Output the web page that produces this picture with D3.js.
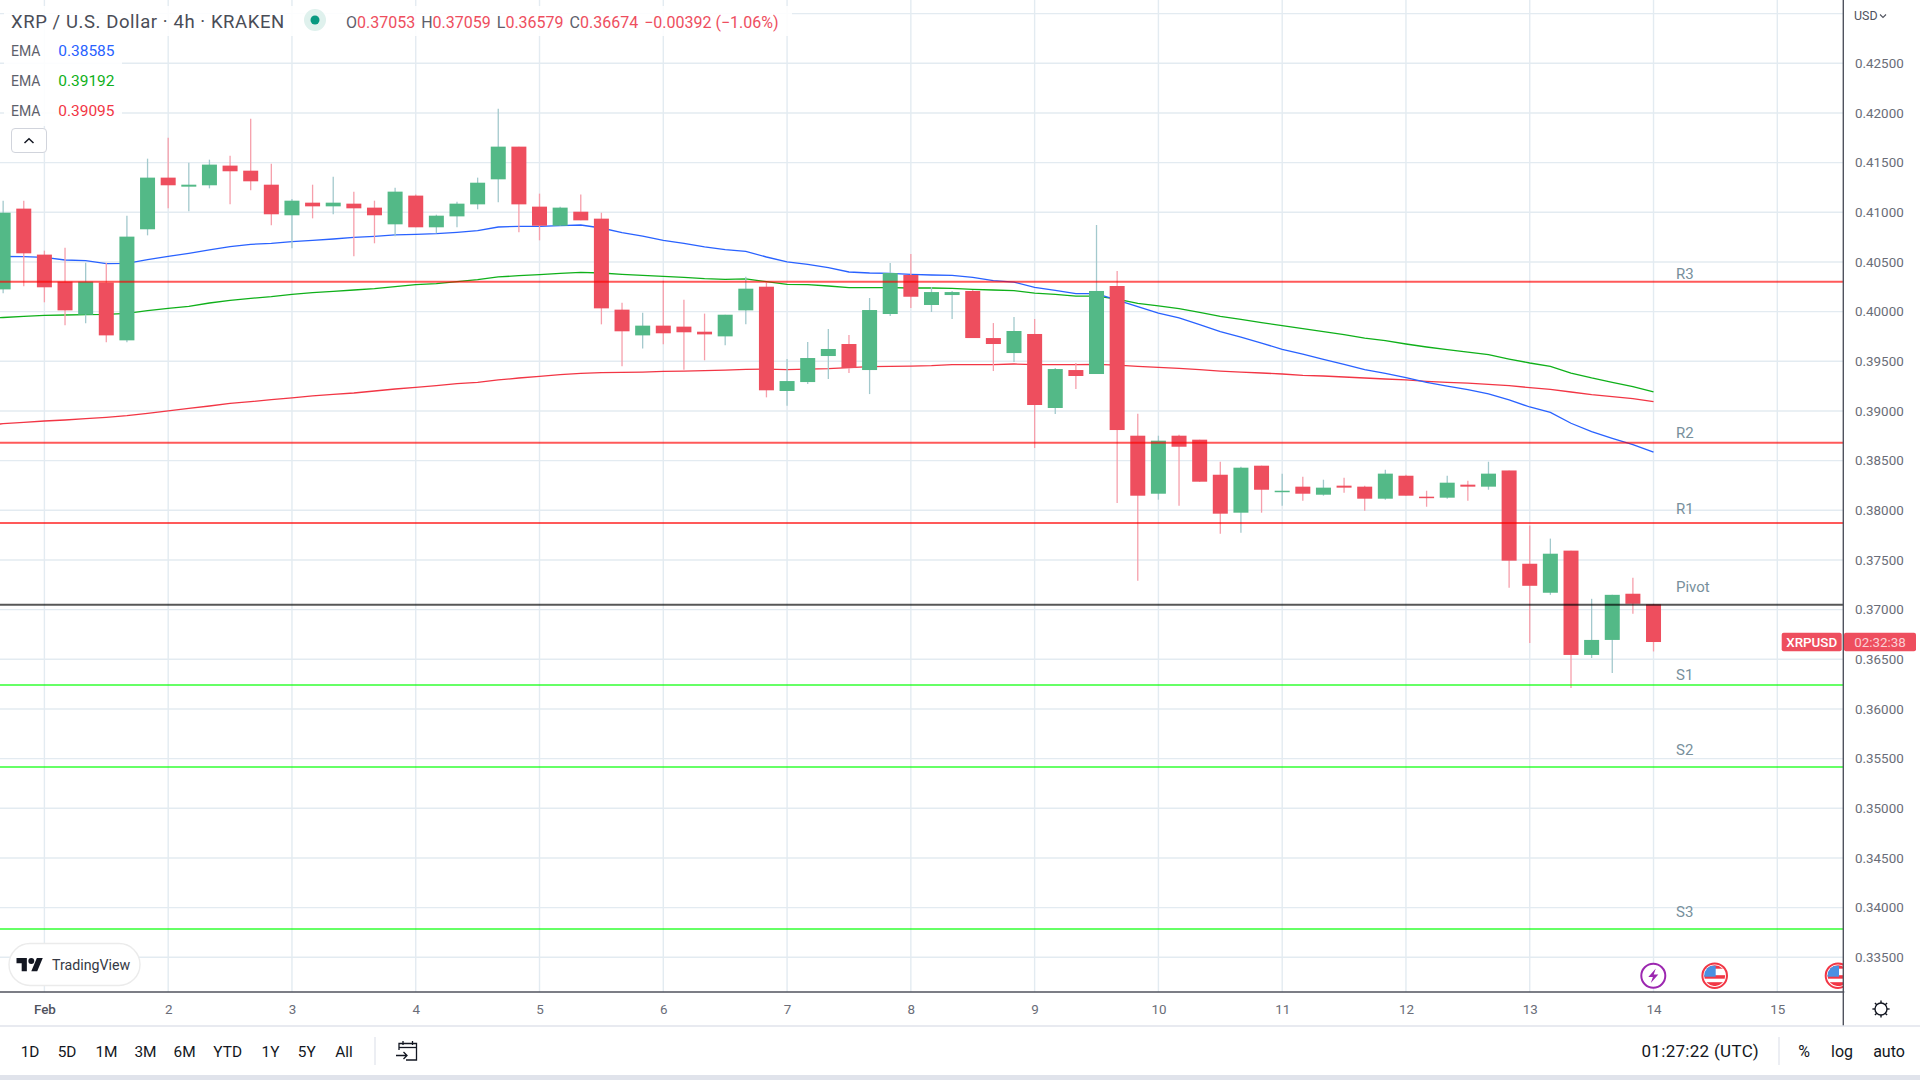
<!DOCTYPE html>
<html><head><meta charset="utf-8">
<script src="https://cdn.jsdelivr.net/npm/d3@7"></script>
<style>html,body{margin:0;padding:0;background:#fff;overflow:hidden}svg{display:block}text{font-family:Roboto,sans-serif}</style>
</head><body><svg id="c" width="1920" height="1080"></svg>
<script>
// Data. Bars are 4h; index 0 = 1 Feb 00:00.
const firstBar = -2;
const opens = [.40224,.41037,.40574,.40302,.39969,.40292,.39711,.40829,.41349,.41258,.41272,.41470,.41419,.41278,.40970,.41097,.41060,.41087,.41047,.40879,.41168,.40849,.40959,.41080,.41332,.41661,.41057,.40865,.41006,.40936,.40020,.39761,.39859,.39849,.39798,.39751,.40013,.40251,.39201,.39291,.39553,.39674,.39412,.39976,.40369,.40067,.40167,.40208,.39734,.39583,.39775,.39030,.39412,.39372,.40258,.38751,.38167,.38751,.38711,.38358,.37976,.38449,.38191,.38238,.38157,.38248,.38238,.38117,.38348,.38137,.38127,.38258,.38238,.38401,.37462,.37170,.37594,.36544,.36695,.37160,.37053];
const highs = [.41117,.41117,.40614,.40644,.40493,.40493,.40966,.41540,.41751,.41500,.41530,.41570,.41943,.41490,.41134,.41278,.41359,.41208,.41117,.41248,.41178,.40976,.41107,.41349,.42043,.41661,.41188,.41057,.41178,.40996,.40090,.39990,.40312,.40120,.39980,.39969,.40352,.40295,.39523,.39694,.39825,.39764,.40137,.40489,.40580,.40248,.40208,.40218,.39885,.39946,.39926,.39432,.39483,.40872,.40409,.38973,.38751,.38761,.38711,.38489,.38439,.38449,.38369,.38338,.38308,.38328,.38248,.38409,.38358,.38197,.38348,.38298,.38489,.38401,.37846,.37715,.37594,.37109,.37149,.37321,.37059];
const lows = [.40184,.40255,.40094,.39862,.39882,.39691,.39691,.40768,.41040,.41010,.41241,.41080,.41221,.40869,.40637,.40939,.40980,.40557,.40688,.40758,.40849,.40788,.40849,.41030,.41100,.40798,.40718,.40865,.40919,.39872,.39449,.39630,.39671,.39416,.39510,.39661,.39872,.39137,.39053,.39271,.39322,.39382,.39170,.39956,.40036,.39996,.39926,.39734,.39402,.39493,.38627,.38969,.39221,.39372,.38073,.37291,.38107,.38046,.38288,.37764,.37775,.37976,.38046,.38097,.38147,.38177,.37996,.38107,.38147,.38036,.38117,.38097,.38207,.37220,.36665,.37149,.36211,.36513,.36362,.36958,.36579];
const closes = [.40996,.40587,.40245,.40013,.40302,.39761,.40755,.41349,.41272,.41278,.41480,.41413,.41312,.40980,.41117,.41060,.41097,.41040,.40970,.41208,.40849,.40966,.41087,.41298,.41661,.41080,.40865,.41047,.40919,.40033,.39802,.39859,.39782,.39792,.39771,.39969,.40231,.39208,.39301,.39533,.39624,.39432,.40016,.40389,.40150,.40197,.40197,.39734,.39674,.39805,.39060,.39422,.39352,.40208,.38808,.38147,.38701,.38640,.38288,.37966,.38429,.38207,.38197,.38167,.38228,.38228,.38117,.38369,.38147,.38127,.38278,.38238,.38369,.37493,.37240,.37563,.36544,.36695,.37149,.37059,.36674];
const emaFirst = -3;
const emaBlue = [.40560,.40555,.40553,.40547,.40520,.40513,.40483,.40486,.40523,.40557,.40587,.40621,.40654,.40678,.40688,.40704,.40718,.40731,.40748,.40758,.40772,.40778,.40785,.40798,.40815,.40852,.40859,.40859,.40865,.40872,.40842,.40795,.40761,.40718,.40688,.40651,.40624,.40607,.40550,.40500,.40476,.40442,.40399,.40389,.40385,.40375,.40369,.40365,.40345,.40312,.40298,.40244,.40214,.40181,.40181,.40117,.40050,.39986,.39936,.39869,.39798,.39744,.39684,.39620,.39573,.39520,.39469,.39416,.39379,.39335,.39288,.39251,.39214,.39171,.39111,.39040,.38986,.38876,.38792,.38725,.38661,.38585];
const emaGreen = [.39929,.39941,.39953,.39963,.39966,.39969,.39973,.39983,.40010,.40033,.40053,.40087,.40114,.40134,.40151,.40174,.40191,.40204,.40218,.40231,.40251,.40271,.40282,.40302,.40322,.40349,.40362,.40372,.40386,.40396,.40389,.40376,.40365,.40355,.40345,.40332,.40325,.40329,.40302,.40275,.40271,.40258,.40241,.40241,.40241,.40238,.40238,.40234,.40224,.40218,.40211,.40187,.40174,.40157,.40157,.40125,.40083,.40057,.40030,.39993,.39953,.39922,.39889,.39859,.39828,.39798,.39768,.39734,.39708,.39674,.39644,.39617,.39593,.39567,.39523,.39483,.39450,.39382,.39332,.39288,.39245,.39192];
const emaRed = [.38852,.38872,.38886,.38899,.38909,.38923,.38936,.38953,.38976,.39000,.39027,.39050,.39077,.39094,.39114,.39131,.39151,.39168,.39181,.39201,.39221,.39238,.39255,.39275,.39288,.39312,.39332,.39349,.39365,.39379,.39385,.39389,.39392,.39399,.39402,.39406,.39412,.39419,.39422,.39416,.39422,.39426,.39436,.39446,.39449,.39452,.39456,.39466,.39466,.39466,.39473,.39466,.39466,.39466,.39469,.39462,.39449,.39439,.39429,.39416,.39402,.39392,.39382,.39372,.39359,.39352,.39342,.39332,.39322,.39312,.39298,.39288,.39281,.39268,.39255,.39235,.39218,.39191,.39164,.39144,.39124,.39095];
const pivotNames = ["R3","R2","R1","Pivot","S1","S2","S3"];
const pivotValues = [.40301,.38680,.37872,.37049,.36241,.35416,.33785];
const pivotColors = ["rgba(255,0,0,.65)","rgba(255,0,0,.65)","rgba(255,0,0,.65)","rgba(0,0,0,.66)","rgba(0,255,0,.6)","rgba(0,255,0,.6)","rgba(0,255,0,.6)"];
const pivotLabelY = [274,432.5,509,587,675,750,912];
const priceTicks = d3.range(0,19).map(i=>+(0.335+i*0.005).toFixed(3));
const dayTicks = [1,2,3,4,5,6,7,8,9,10,11,12,13,14,15];
const rangeButtons = ["1D","5D","1M","3M","6M","YTD","1Y","5Y","All"];
const rangeButtonX = [30,67,106.5,145.5,184.6,227.7,270.5,306.7,344];
const emaLegend = [["EMA","0.38585","#2962ff"],["EMA","0.39192","#0fb01a"],["EMA","0.39095","#f23645"]];
const ohlcLegend = [["O","0.37053"],["H","0.37059"],["L","0.36579"],["C","0.36674"]];

const W=1920,H=1080,plotR=1843.3,plotB=992;
const UP="#53b987",DOWN="#ee4e5e",UPW="#a3c9cd",DOWNW="#f69fab",GRID="#e3ebf1",AX="#50535e";
const x=d3.scaleLinear().domain([0,84]).range([44.4,1777.3]);
const y=d3.scaleLinear().domain([.335,.425]).range([957.3,63.3]);
const svg=d3.select("#c");
const defs=svg.append("defs");
defs.append("clipPath").attr("id","plot").append("rect").attr("width",plotR).attr("height",plotB);
svg.append("rect").attr("width",W).attr("height",H).attr("fill","#fff");

// grid
const grid=svg.append("g").attr("clip-path","url(#plot)");
grid.selectAll("line.h").data(priceTicks.concat([.43])).join("line").attr("x1",0).attr("x2",plotR)
 .attr("y1",d=>y(d)).attr("y2",d=>y(d)).attr("stroke",GRID).attr("stroke-width",1.4);
grid.selectAll("line.v").data(dayTicks).join("line").attr("class","v").attr("y1",0).attr("y2",plotB)
 .attr("x1",d=>x(6*(d-1))).attr("x2",d=>x(6*(d-1))).attr("stroke",GRID).attr("stroke-width",1.4);

// EMAs
const plot=svg.append("g").attr("clip-path","url(#plot)");
const line=d3.line().x((d,i)=>x(emaFirst+i)).y(d=>y(d));
[[emaRed,"#f23645"],[emaGreen,"#0fb01a"],[emaBlue,"#2962ff"]].forEach(([s,c])=>{
 plot.append("path").attr("d",line(s)).attr("fill","none").attr("stroke",c).attr("stroke-width",1.3);
});

// candles
const bars=opens.map((o,i)=>({i:firstBar+i,o,h:highs[i],l:lows[i],c:closes[i]}));
const g=plot.selectAll("g.bar").data(bars).join("g").attr("class","bar");
g.append("line").attr("x1",d=>x(d.i)).attr("x2",d=>x(d.i)).attr("y1",d=>y(d.h)).attr("y2",d=>y(d.l))
 .attr("stroke",d=>d.c>=d.o?UPW:DOWNW).attr("stroke-width",1.3);
g.append("rect").attr("x",d=>x(d.i)-7.5).attr("width",15)
 .attr("y",d=>y(Math.max(d.o,d.c))).attr("height",d=>Math.max(1.5,Math.abs(y(d.o)-y(d.c))))
 .attr("fill",d=>d.c>=d.o?UP:DOWN);

// pivots
plot.selectAll("line.p").data(pivotValues).join("line").attr("x1",0).attr("x2",plotR)
 .attr("y1",d=>y(d)).attr("y2",d=>y(d)).attr("stroke",(d,i)=>pivotColors[i]).attr("stroke-width",2);
svg.selectAll("text.p").data(pivotNames).join("text").attr("class","p").attr("x",1676)
 .attr("y",(d,i)=>pivotLabelY[i]).attr("dy",".35em").attr("font-size",15).attr("fill","#78909c").text(d=>d);

// top-left legend backdrops
svg.append("rect").attr("x",4).attr("y",6).attr("width",788).attr("height",30).attr("fill","#fff").attr("opacity",.88);
svg.append("rect").attr("x",4).attr("y",36).attr("width",118).attr("height",90).attr("fill","#fff").attr("opacity",.88);
svg.append("text").attr("x",11).attr("y",21).attr("dy",".36em").attr("font-size",18.5).attr("letter-spacing",".58").attr("fill","#4a4d57")
 .text("XRP / U.S. Dollar · 4h · KRAKEN");
svg.append("circle").attr("cx",315).attr("cy",20).attr("r",11).attr("fill","#dff1ed");
svg.append("circle").attr("cx",315).attr("cy",20).attr("r",4.5).attr("fill","#089981");
const ol=svg.append("text").attr("x",346).attr("y",22).attr("dy",".36em").attr("font-size",16);
ohlcLegend.forEach(([k,v],i)=>{
 ol.append("tspan").attr("dx",i?6:0).attr("fill","#5d606b").text(k);
 ol.append("tspan").attr("fill",DOWN).text(v);
});
ol.append("tspan").attr("dx",6).attr("fill",DOWN).text("−0.00392 (−1.06%)");
emaLegend.forEach(([k,v,c],i)=>{
 const yy=50.7+i*30;
 svg.append("text").attr("x",11).attr("y",yy).attr("dy",".36em").attr("font-size",14).attr("fill","#5d606b").text(k);
 svg.append("text").attr("x",58.2).attr("y",yy).attr("dy",".36em").attr("font-size",15.5).attr("fill",c).text(v);
});
svg.append("rect").attr("x",11.5).attr("y",128.5).attr("width",35).attr("height",24).attr("rx",3.5).attr("fill","#fff").attr("stroke","#d1d4dc");
svg.append("path").attr("d","M24.5 143 L29 138.8 L33.5 143").attr("fill","none").attr("stroke","#131722").attr("stroke-width",1.5);

// badge
svg.append("rect").attr("x",9).attr("y",943.5).attr("width",131).attr("height",42).attr("rx",21).attr("fill","#fff").attr("stroke","#ebebeb").attr("stroke-width",1.4);
svg.append("g").attr("transform","translate(16.5,955) scale(.74)").attr("fill","#131722").html('<path d="M14 22H7V11H0V4h14v18zM28 22h-8l7.5-18h8L28 22z"/><circle cx="20" cy="8" r="4"/>');
svg.append("text").attr("x",52).attr("y",965).attr("dy",".36em").attr("font-size",14.2).attr("fill","#363a45").text("TradingView");

// event icons
function flag(cx,cy){
 const id="f"+Math.round(cx);
 const cp=defs.append("clipPath").attr("id",id);cp.append("circle").attr("cx",cx).attr("cy",cy).attr("r",10.5);
 const o=svg.append("g").attr("clip-path","url(#plot)");
 o.append("circle").attr("cx",cx).attr("cy",cy).attr("r",12.3).attr("fill","#fff").attr("stroke","#f23645").attr("stroke-width",2);
 const f=o.append("g").attr("clip-path",`url(#${id})`);
 [[-11,"#f23645"],[-3.5,"#fff"],[-0.5,"#f23645"],[3,"#fff"],[6.5,"#f23645"]].forEach(([d,c])=>f.append("rect").attr("x",cx-11).attr("y",cy+d).attr("width",22).attr("height",4).attr("fill",c));
 f.append("rect").attr("x",cx-11).attr("y",cy-10).attr("width",12).attr("height",11).attr("fill","#4a90e2");
}
svg.append("circle").attr("cx",1653.3).attr("cy",975.7).attr("r",12).attr("fill","#fff").attr("stroke","#9c27b0").attr("stroke-width",2);
svg.append("path").attr("d","M1655.8 968.5 L1648.3 977 L1652.9 977 L1650.8 983 L1658.3 974.5 L1653.7 974.5 Z").attr("fill","#9c27b0");
flag(1714.7,975.7);flag(1838,975.7);

// axes
const rightAxis=d3.axisRight(y).tickValues(priceTicks).tickFormat(d3.format(".5f")).tickSize(0).tickPadding(0);
svg.append("g").attr("transform","translate(1855,0)").call(rightAxis).call(a=>{
 a.select(".domain").remove();
 a.selectAll("text").attr("font-size",13.4).attr("font-family","Roboto,sans-serif").attr("fill","#6a6d78");
});
const bottomAxis=d3.axisBottom(x).tickValues(dayTicks.map(d=>6*(d-1))).tickFormat(v=>{const d=v/6+1;return d===1?"Feb":String(d)}).tickSize(0).tickPadding(0);
svg.append("g").attr("transform","translate(0,1009)").call(bottomAxis).call(a=>{
 a.select(".domain").remove();
 a.selectAll("text").attr("font-size",13.4).attr("font-family","Roboto,sans-serif").attr("fill","#6a6d78").attr("dy",".36em").attr("y",0);
 a.selectAll(".tick").filter(d=>d===0).select("text").attr("font-weight",500).attr("fill","#50535e");
});
svg.append("line").attr("x1",0).attr("x2",plotR+1).attr("y1",992).attr("y2",992).attr("stroke",AX).attr("stroke-width",1.4);
svg.append("line").attr("x1",plotR).attr("x2",plotR).attr("y1",0).attr("y2",1026).attr("stroke",AX).attr("stroke-width",1.4);
svg.append("line").attr("x1",0).attr("x2",W).attr("y1",1026).attr("y2",1026).attr("stroke","#e0e3eb").attr("stroke-width",1.4);
svg.append("rect").attr("y",1075).attr("width",W).attr("height",5).attr("fill","#e0e3eb");

// USD selector
svg.append("text").attr("x",1854).attr("y",16).attr("dy",".36em").attr("font-size",12.4).attr("fill","#50535e").text("USD");
svg.append("path").attr("d","M1880 14.5 L1883 17.5 L1886 14.5").attr("fill","none").attr("stroke","#50535e").attr("stroke-width",1.1);

// last-price tags
const lastY=y(closes[closes.length-1]);
svg.append("rect").attr("x",1781.7).attr("y",lastY-9.2).attr("width",60).attr("height",18.4).attr("rx",2).attr("fill",DOWN);
svg.append("rect").attr("x",1844).attr("y",lastY-9.2).attr("width",72).attr("height",18.4).attr("rx",2).attr("fill",DOWN);
svg.append("text").attr("x",1811.7).attr("y",lastY).attr("dy",".36em").attr("text-anchor","middle").attr("font-size",13.4).attr("font-weight",500).attr("fill","#fff").text("XRPUSD");
svg.append("text").attr("x",1880).attr("y",lastY).attr("dy",".36em").attr("text-anchor","middle").attr("font-size",13.4).attr("fill","#fbd0d5").text("02:32:38");

// gear
const gear=svg.append("g").attr("transform","translate(1881,1009)").attr("fill","none").attr("stroke","#131722").attr("stroke-width",1.4);
gear.append("circle").attr("r",6);
d3.range(8).forEach(k=>{const a=k*Math.PI/4;gear.append("line").attr("x1",6*Math.cos(a)).attr("y1",6*Math.sin(a)).attr("x2",8.6*Math.cos(a)).attr("y2",8.6*Math.sin(a));});

// toolbar
svg.selectAll("text.rb").data(rangeButtons).join("text").attr("class","rb").attr("x",(d,i)=>rangeButtonX[i]).attr("y",1051).attr("dy",".36em")
 .attr("text-anchor","middle").attr("font-size",15.4).attr("fill","#131722").text(d=>d);
svg.append("line").attr("x1",375).attr("x2",375).attr("y1",1037).attr("y2",1065).attr("stroke","#e0e3eb").attr("stroke-width",1.2);
svg.append("g").attr("fill","none").attr("stroke","#131722").attr("stroke-width",1.3).html(
 '<path d="M399 1050 V1043.5 H416.5 V1060 H406"/><path d="M399 1047.5 H416.5"/><path d="M403 1041 V1045 M412.5 1041 V1045"/><path d="M396 1055.5 H407 M403.5 1052 L407 1055.5 L403.5 1059"/>');
svg.append("text").attr("x",1641.5).attr("y",1051).attr("dy",".36em").attr("font-size",17).attr("letter-spacing",".3").attr("fill","#131722").text("01:27:22 (UTC)");
svg.append("line").attr("x1",1779).attr("x2",1779).attr("y1",1037).attr("y2",1065).attr("stroke","#e0e3eb").attr("stroke-width",1.2);
[["%",1804],["log",1842],["auto",1889]].forEach(([t,xx])=>svg.append("text").attr("x",xx).attr("y",1051).attr("dy",".36em").attr("text-anchor","middle").attr("font-size",16).attr("fill","#131722").text(t));
</script></body></html>
